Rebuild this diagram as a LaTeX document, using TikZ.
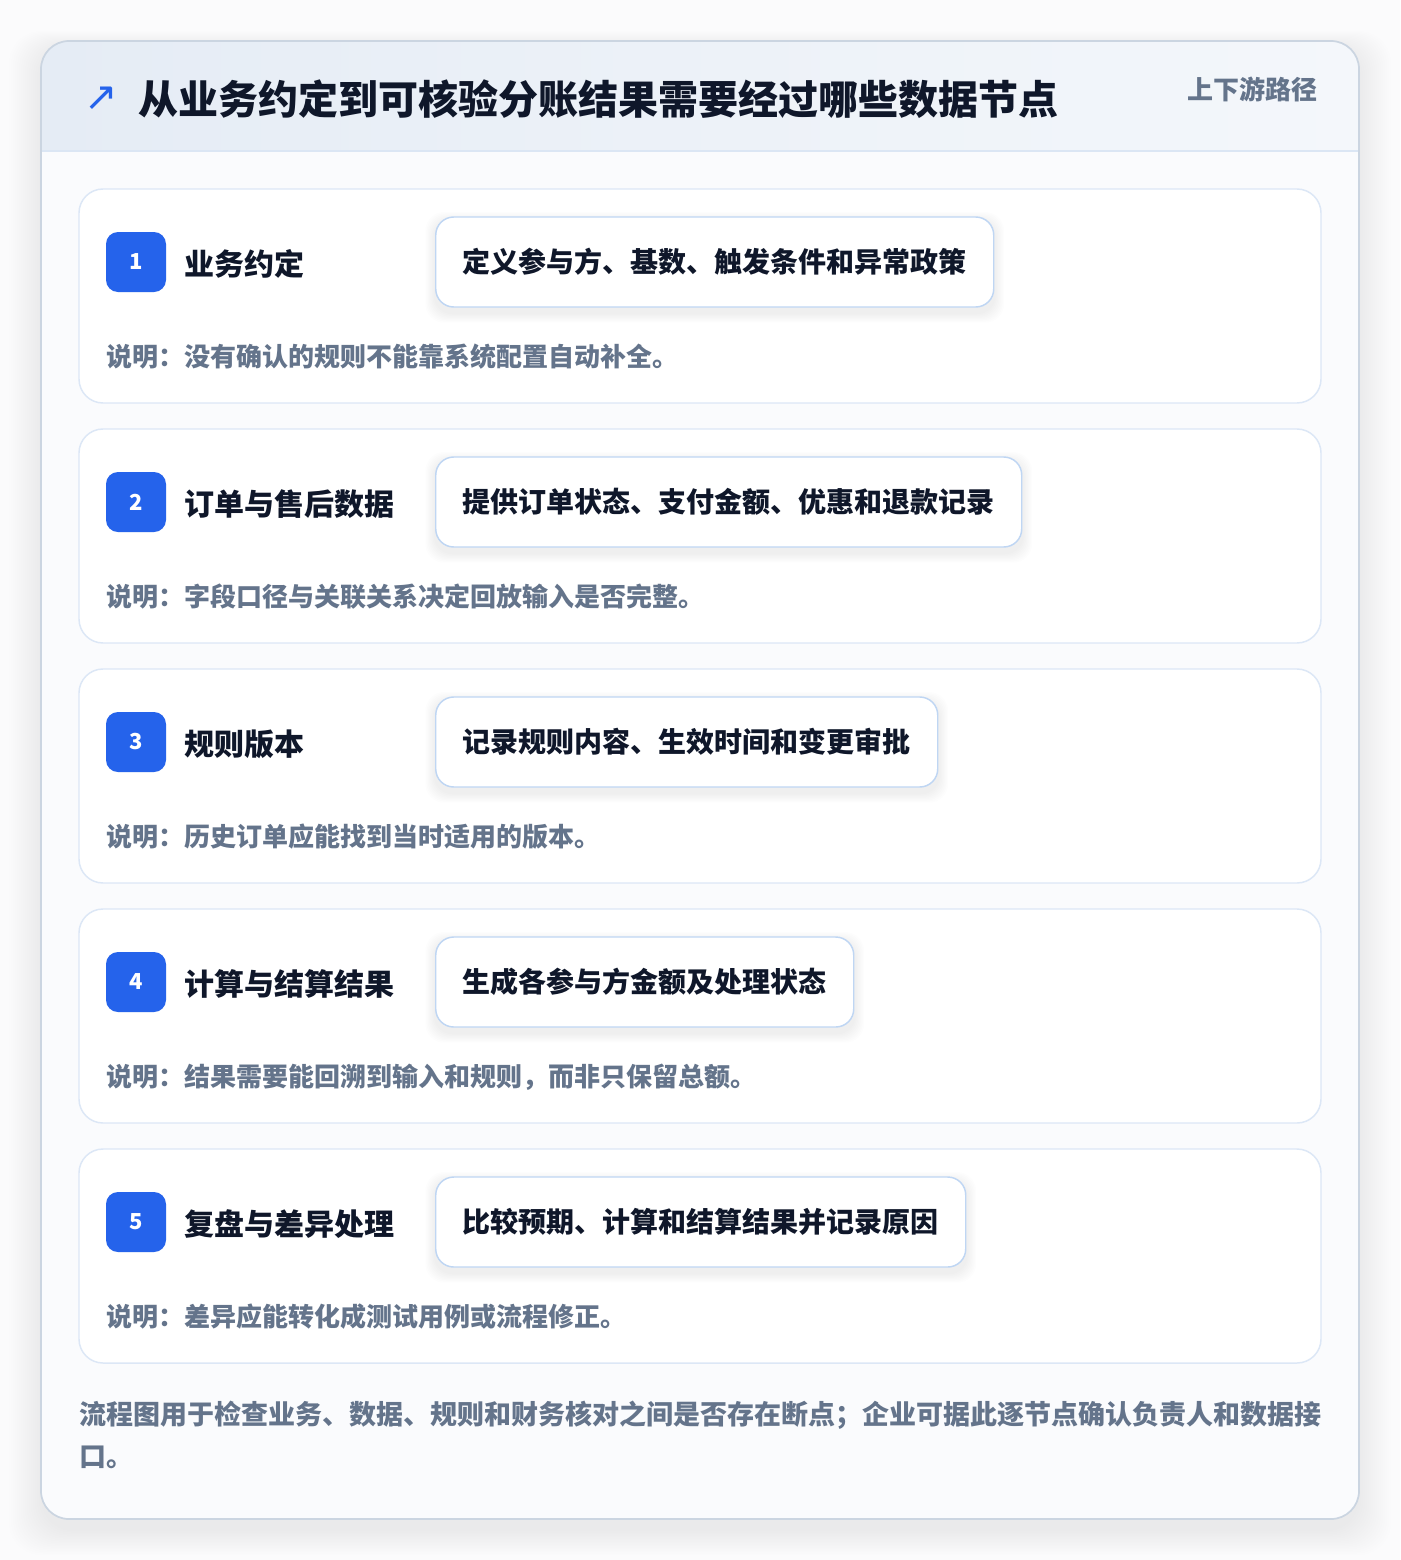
\documentclass[tikz,border=0pt]{standalone}
\usepackage{fontspec}
\setmainfont{Noto Sans CJK SC}
\newfontfamily\djv{DejaVu Sans}
\definecolor{pagebg}{HTML}{FBFBFC}
\definecolor{cardline}{HTML}{CBD5E1}
\definecolor{headl}{HTML}{E5ECF5}
\definecolor{headr}{HTML}{F4F7FB}
\definecolor{headline}{HTML}{DBE6F4}
\definecolor{bodybg}{HTML}{FAFBFD}
\definecolor{stepline}{HTML}{DCE7F6}
\definecolor{pillline}{HTML}{BFD6F3}
\definecolor{badgeblue}{HTML}{2563EB}
\definecolor{ink}{HTML}{0F172A}
\definecolor{muted}{HTML}{64748B}
\pgfdeclarelayer{cards}
\pgfdeclarelayer{shadows}
\pgfsetlayers{cards,shadows,main}
\tikzset{
  badge/.style={fill=badgeblue, text=white, rounded corners=9pt, minimum width=45pt, minimum height=45pt, inner sep=0pt, font=\bfseries\fontsize{16.5}{18}\selectfont},
  steptitle/.style={anchor=west, inner sep=0pt, text=ink, font=\bfseries\fontsize{22.5}{26}\selectfont},
  pill/.style={anchor=west, draw=pillline, line width=1.1pt, fill=white, rounded corners=13.5pt, minimum height=67.5pt, inner xsep=20.25pt, text=ink, font=\bfseries\fontsize{21}{24}\selectfont},
  notetext/.style={anchor=west, inner sep=0pt, text=muted, font=\bfseries\fontsize{19.5}{22}\selectfont},
  stepcard/.style={draw=stepline, line width=1.1pt, fill=white, rounded corners=18pt},
}
\begin{document}
\begin{tikzpicture}[x=0.75pt,y=-0.75pt]
\begin{pgfonlayer}{cards}
\useasboundingbox (0,0) rectangle (1400,1560);
\fill[pagebg] (0,0) rectangle (1400,1560);
% outer shadow
\foreach \k in {0,...,16}{
  \fill[black, opacity=0.005, rounded corners=24pt] (41-2*\k,41+6-\k) rectangle (1359+2*\k,1519+12+1.5*\k);
}
% outer card
\fill[bodybg, rounded corners=21pt] (41,41) rectangle (1359,1519);
\begin{scope}
  \clip[rounded corners=21pt] (41,41) rectangle (1359,1519);
  \shade[left color=headl, right color=headr] (41,41) rectangle (1359,151);
\end{scope}
\draw[headline, line width=1.3pt] (41,151) -- (1359,151);
\draw[cardline, line width=1.3pt, rounded corners=21pt] (41,41) rectangle (1359,1519);
\end{pgfonlayer}
% header
\node[inner sep=0pt, text=badgeblue, font=\djv\fontsize{30}{32}\selectfont] (icon) at (101,99) {↗};
\node[anchor=west, inner sep=0pt, text=ink, font=\bfseries\fontsize{30}{34}\selectfont] (title) at (138,99) {从业务约定到可核验分账结果需要经过哪些数据节点};
\node[anchor=east, inner sep=0pt, text=muted, font=\bfseries\fontsize{19.5}{22}\selectfont] (tag) at (1318,89) {上下游路径};
% steps
\foreach \i/\t/\p/\n in {
  1/业务约定/定义参与方、基数、触发条件和异常政策/说明：没有确认的规则不能靠系统配置自动补全。,
  2/订单与售后数据/提供订单状态、支付金额、优惠和退款记录/说明：字段口径与关联关系决定回放输入是否完整。,
  3/规则版本/记录规则内容、生效时间和变更审批/说明：历史订单应能找到当时适用的版本。,
  4/计算与结算结果/生成各参与方金额及处理状态/说明：结果需要能回溯到输入和规则，而非只保留总额。,
  5/复盘与差异处理/比较预期、计算和结算结果并记录原因/说明：差异应能转化成测试用例或流程修正。}{
  \pgfmathsetmacro{\top}{189+240*(\i-1)}
  \begin{pgfonlayer}{cards}
    \draw[stepcard] (79,\top) rectangle (1321,\top+214);
  \end{pgfonlayer}
  \node[badge] (badge\i) at (136,\top+73) {\i};
  \node[steptitle] (title\i) at (184,\top+75) {\t};
  \node[pill] (pill\i) at (435,\top+73) {\p};
  \node[notetext] (note\i) at (106,\top+168) {\n};
  \begin{pgfonlayer}{shadows}
    \foreach \s in {1,...,8}{
      \fill[black, opacity=0.007, rounded corners=14pt]
        ([xshift=-\s*0.9pt, yshift=-4pt-\s*0.9pt]pill\i.south west) rectangle
        ([xshift=\s*0.9pt, yshift=-4pt+\s*0.9pt]pill\i.north east);
    }
  \end{pgfonlayer}
}
% footer
\node[anchor=north west, inner sep=0pt, align=left, text=muted, font=\bfseries\fontsize{20.25}{31.5}\selectfont] (footer) at (79,1401) {流程图用于检查业务、数据、规则和财务核对之间是否存在断点；企业可据此逐节点确认负责人和数据接\\口。};
\end{tikzpicture}
\end{document}
